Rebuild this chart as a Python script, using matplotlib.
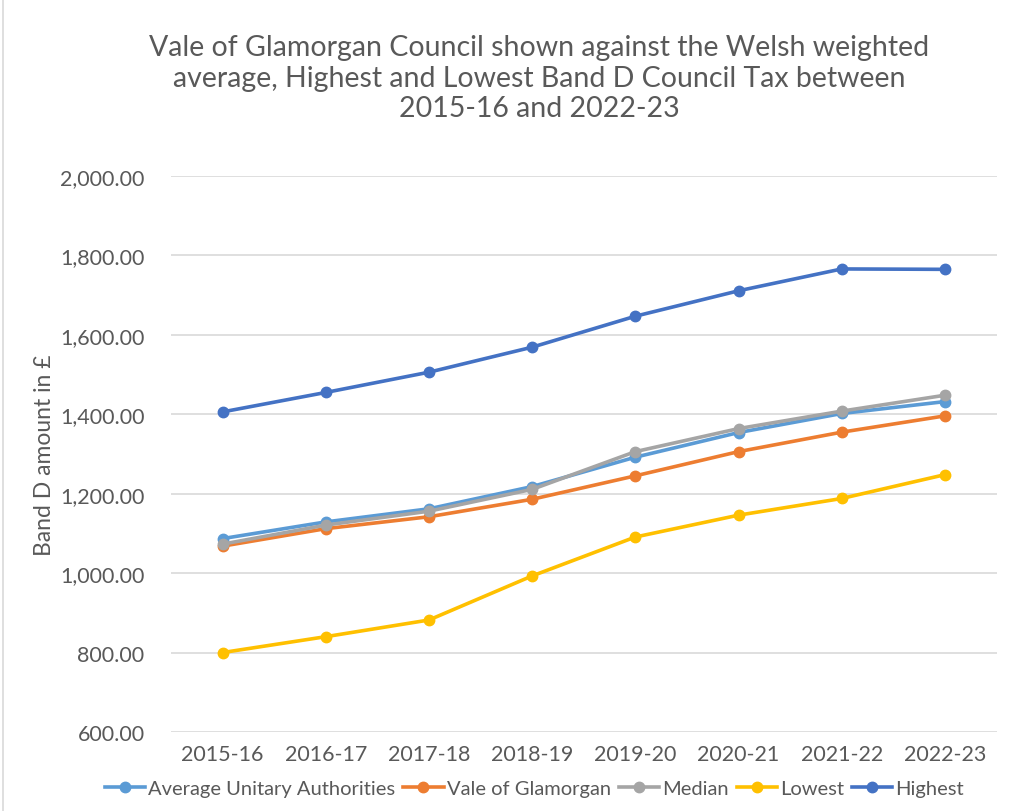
import matplotlib.pyplot as plt
from matplotlib.ticker import FuncFormatter
from matplotlib.lines import Line2D

plt.rcParams['font.family'] = ['Lato', 'DejaVu Sans']

years = ["2015-16", "2016-17", "2017-18", "2018-19", "2019-20", "2020-21", "2021-22", "2022-23"]
average_ua = [1087, 1129, 1162, 1218, 1292, 1354, 1402, 1432]
vale = [1068, 1112, 1142, 1186, 1245, 1306, 1355, 1396]
median = [1073, 1121, 1156, 1211, 1306, 1364, 1408, 1448]
lowest = [800, 840, 882, 993, 1091, 1146, 1188, 1248]
highest = [1406, 1455, 1506, 1569, 1647, 1711, 1766, 1765]

series = [
    ("Average Unitary Authorities", average_ua, "#5B9BD5"),
    ("Vale of Glamorgan", vale, "#ED7D31"),
    ("Median", median, "#A5A5A5"),
    ("Lowest", lowest, "#FFC000"),
    ("Highest", highest, "#4472C4"),
]

TEXT = "#595959"

fig = plt.figure(figsize=(10.14, 8.12), dpi=100)
ax = fig.add_axes([0.1686, 0.0973, 0.8142, 0.6847])

x = list(range(len(years)))
for name, vals, col in series:
    ax.plot(x, vals, color=col, linewidth=2.6, marker='o', markersize=7.5,
            label=name, solid_capstyle='round')

ax.set_xlim(-0.5, len(years) - 0.5)
ax.set_ylim(600, 2000)
ax.set_yticks(range(600, 2001, 200))
ax.yaxis.set_major_formatter(FuncFormatter(lambda v, p: f"{v:,.2f}"))
ax.set_xticks(x)
ax.set_xticklabels(years)
ax.grid(axis='y', color='#d9d9d9', linewidth=1.2)
ax.set_axisbelow(True)
for s in ax.spines.values():
    s.set_visible(False)
ax.tick_params(axis='both', length=0, labelsize=15.5, colors=TEXT, pad=9)
ax.tick_params(axis='y', pad=19)
ax.set_ylabel("Band D amount in £", fontsize=16.5, color=TEXT, labelpad=4)

fig.text(0.532, 0.85,
         "Vale of Glamorgan Council shown against the Welsh weighted\n"
         "average, Highest and Lowest Band D Council Tax between\n"
         "2015-16 and 2022-23",
         ha='center', va='bottom', fontsize=20.5, color=TEXT, linespacing=1.2)

handles = [Line2D([0], [0], color=c, linewidth=2.6, marker='o', markersize=7.5)
           for _, _, c in series]
fig.legend(handles, [n for n, _, _ in series], loc='center', ncol=5,
           bbox_to_anchor=(0.527, 0.028), frameon=False, fontsize=14.5,
           handlelength=2.0, handletextpad=0.15, columnspacing=0.4,
           labelcolor=TEXT)

# chart area border on the left
fig.add_artist(Line2D([0.003, 0.003], [0, 1], color='#d9d9d9', linewidth=1.2))

fig.savefig("out.png", dpi=100)
